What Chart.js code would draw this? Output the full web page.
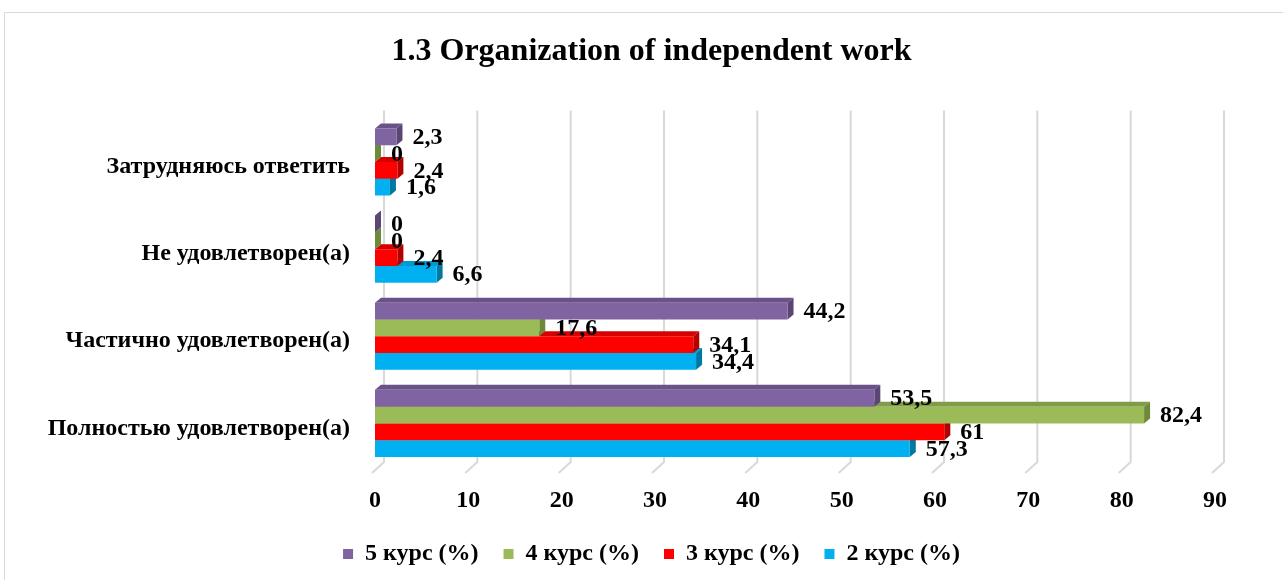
<!DOCTYPE html>
<html>
<head>
<meta charset="utf-8">
<script src="https://cdn.jsdelivr.net/npm/chart.js@4/dist/chart.umd.min.js"></script>
<style>
html, body { margin: 0; padding: 0; background: #fff; overflow: hidden; }
#wrap { position: relative; width: 1283px; height: 580px; }
</style>
</head>
<body>
<div id="wrap"><canvas id="chart" width="1283" height="580"></canvas></div>
<script>
const categories = [
    'Затрудняюсь ответить',
    'Не удовлетворен(а)',
    'Частично удовлетворен(а)',
    'Полностью удовлетворен(а)'
];
const seriesNames = ['5 курс (%)', '4 курс (%)', '3 курс (%)', '2 курс (%)'];
const kurs5 = [2.3, 0, 44.2, 53.5];
const kurs4 = [0, 0, 17.6, 82.4];
const kurs3 = [2.4, 2.4, 34.1, 61];
const kurs2 = [1.6, 6.6, 34.4, 57.3];
const xTicks = [0, 10, 20, 30, 40, 50, 60, 70, 80, 90];

const frontColors = ['#8064A2', '#9BBB59', '#FF0000', '#00B0F0'];
const topColors = ['#6A5288', '#819C48', '#D60000', '#0098D0'];
const sideColors = ['#5A4575', '#6E8A38', '#B00000', '#00789F'];

const FONT = "'Liberation Serif', 'Times New Roman', serif";
const DX = 6, DY = 5;

// border of the chart box, back grid lines with slanted floor part, 3d faces, value labels
const bar3d = {
    id: 'bar3d',
    afterLayout(chart) {
        // title and legend are centred on the whole chart box, not on the plot
        const shift = 24;
        [chart.titleBlock, chart.legend].forEach(b => {
            if (b) { b.left += shift; b.right += shift; }
        });
    },
    beforeDraw(chart) {
        const ctx = chart.ctx;
        ctx.save();
        ctx.strokeStyle = '#d9d9d9';
        ctx.lineWidth = 1;
        ctx.beginPath();
        ctx.moveTo(4.5, 580);
        ctx.lineTo(4.5, 12.5);
        ctx.lineTo(1283, 12.5);
        ctx.stroke();
        ctx.restore();
    },
    beforeDatasetsDraw(chart) {
        const ctx = chart.ctx;
        const area = chart.chartArea;
        const xs = chart.scales.x;
        ctx.save();
        ctx.strokeStyle = '#d9d9d9';
        ctx.lineWidth = 2;
        xTicks.forEach(v => {
            const px = xs.getPixelForValue(v);
            ctx.beginPath();
            ctx.moveTo(px + 9, area.top - 8);
            ctx.lineTo(px + 9, area.bottom - 5);
            ctx.lineTo(px - 3, area.bottom + 6);
            ctx.stroke();
        });
        // depth faces, lower bars first
        for (let d = chart.data.datasets.length - 1; d >= 0; d--) {
            const meta = chart.getDatasetMeta(d);
            meta.data.forEach(bar => {
                const left = bar.base, right = bar.x;
                const top = bar.y - bar.height / 2, bottom = bar.y + bar.height / 2;
                ctx.fillStyle = topColors[d];
                ctx.beginPath();
                ctx.moveTo(left, top);
                ctx.lineTo(left + DX, top - DY);
                ctx.lineTo(right + DX, top - DY);
                ctx.lineTo(right, top);
                ctx.closePath();
                ctx.fill();
                ctx.fillStyle = sideColors[d];
                ctx.beginPath();
                ctx.moveTo(right, top);
                ctx.lineTo(right + DX, top - DY);
                ctx.lineTo(right + DX, bottom - DY);
                ctx.lineTo(right, bottom);
                ctx.closePath();
                ctx.fill();
            });
        }
        ctx.restore();
    },
    afterDatasetsDraw(chart) {
        const ctx = chart.ctx;
        ctx.save();
        ctx.font = 'bold 24px ' + FONT;
        ctx.fillStyle = '#000';
        ctx.textAlign = 'left';
        ctx.textBaseline = 'middle';
        chart.data.datasets.forEach((ds, d) => {
            chart.getDatasetMeta(d).data.forEach((bar, i) => {
                const txt = String(ds.data[i]).replace('.', ',');
                ctx.fillText(txt, bar.x + DX + 10, bar.y + 1);
            });
        });
        ctx.restore();
    }
};

const seriesData = [kurs5, kurs4, kurs3, kurs2];

new Chart(document.getElementById('chart'), {
    type: 'bar',
    data: {
        labels: categories,
        datasets: seriesData.map((vals, i) => ({
            label: seriesNames[i],
            data: vals,
            backgroundColor: frontColors[i],
            borderWidth: 0,
            categoryPercentage: 0.77,
            barPercentage: 1.0
        }))
    },
    options: {
        indexAxis: 'y',
        responsive: false,
        animation: false,
        layout: { padding: { left: 40, right: 68, top: 0, bottom: 4 } },
        scales: {
            x: {
                min: 0,
                max: 90,
                afterBuildTicks: s => { s.ticks = xTicks.map(v => ({ value: v })); },
                ticks: { font: { family: FONT, size: 24, weight: 'bold' }, color: '#000', padding: 19 },
                grid: { display: false, drawTicks: false },
                border: { display: false },
                afterFit: s => { s.height = 50; }
            },
            y: {
                ticks: { font: { family: FONT, size: 24, weight: 'bold' }, color: '#000', padding: 25, labelOffset: 5 },
                grid: { display: false, drawTicks: false },
                border: { display: false },
                afterFit: s => { s.width = 335; }
            }
        },
        plugins: {
            title: {
                display: true,
                text: '1.3 Organization of independent work',
                font: { family: FONT, size: 32, weight: 'bold' },
                color: '#000',
                padding: { top: 33, bottom: 47 }
            },
            legend: {
                position: 'bottom',
                labels: {
                    font: { family: FONT, size: 24, weight: 'bold' },
                    color: '#000',
                    boxWidth: 10,
                    boxHeight: 10,
                    padding: 25
                }
            },
            tooltip: { enabled: false }
        }
    },
    plugins: [bar3d]
});
</script>
</body>
</html>
